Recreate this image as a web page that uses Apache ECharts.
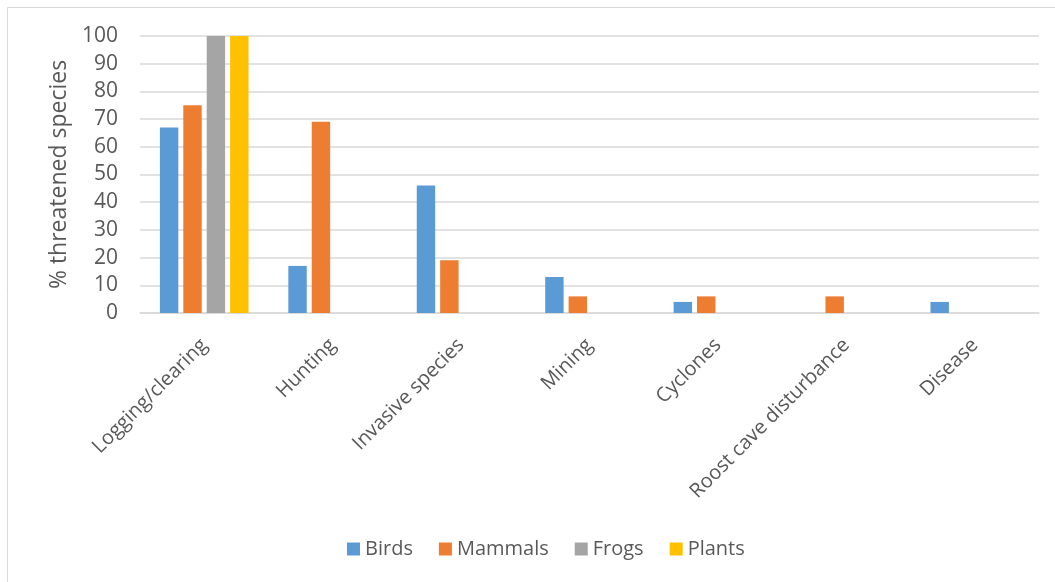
<!DOCTYPE html>
<html>
<head>
<meta charset="utf-8">
<script src="https://cdn.jsdelivr.net/npm/echarts@6/dist/echarts.min.js"></script>
<style>
    html, body { margin: 0; padding: 0; background: #fff; }
    #chart { width: 1055px; height: 582px; }
</style>
</head>
<body>
<div id="chart"></div>
<script>
    // threats by category
    var categories = ['Logging/clearing', 'Hunting', 'Invasive species', 'Mining', 'Cyclones', 'Roost cave disturbance', 'Disease'];
    var birds   = [67, 17, 46, 13, 4, 0, 4];
    var mammals = [75, 69, 19, 6, 6, 6, 0];
    var frogs   = [100, 0, 0, 0, 0, 0, 0];
    var plants  = [100, 0, 0, 0, 0, 0, 0];
    var yTicks  = [0, 10, 20, 30, 40, 50, 60, 70, 80, 90, 100];

    var txt = '#595959';
    var font = 'Open Sans';

    function bar(name, data, color) {
        return {
            name: name,
            type: 'bar',
            data: data,
            barGap: '27%',
            barCategoryGap: '31%',
            itemStyle: { color: color },
            emphasis: { disabled: true }
        };
    }

    var chart = echarts.init(document.getElementById('chart'));
    var option = {
        animation: false,
        textStyle: { fontFamily: font },
        graphic: [{
            type: 'rect',
            shape: { x: 7.5, y: 7.5, width: 1060, height: 590 },
            style: { fill: 'none', stroke: '#d9d9d9', lineWidth: 1 },
            silent: true
        }],
        legend: {
            bottom: 18,
            left: 342,
            itemWidth: 13,
            itemHeight: 13,
            itemGap: 26,
            icon: 'rect',
            textStyle: { color: txt, fontSize: 20, fontFamily: font },
            data: ['Birds', 'Mammals', 'Frogs', 'Plants']
        },
        grid: { left: 140, right: 16, top: 36, height: 277 },
        xAxis: {
            type: 'category',
            data: categories,
            axisTick: { show: false },
            axisLine: { lineStyle: { color: '#d9d9d9', width: 1.5 } },
            axisLabel: { rotate: 45, color: txt, fontSize: 20, fontFamily: font, margin: 29, interval: 0 }
        },
        yAxis: {
            type: 'value',
            min: yTicks[0],
            max: yTicks[yTicks.length - 1],
            interval: 10,
            name: '% threatened species',
            nameLocation: 'middle',
            nameGap: 68,
            nameTextStyle: { color: txt, fontSize: 23, fontFamily: font },
            axisLine: { show: false },
            axisTick: { show: false },
            splitLine: { lineStyle: { color: '#d9d9d9', width: 1.5 } },
            axisLabel: { color: txt, fontSize: 21, fontFamily: font, margin: 22 }
        },
        series: [
            bar('Birds', birds, '#5b9bd5'),
            bar('Mammals', mammals, '#ed7d31'),
            bar('Frogs', frogs, '#a5a5a5'),
            bar('Plants', plants, '#ffc000')
        ]
    };
    chart.setOption(option);
</script>
</body>
</html>
